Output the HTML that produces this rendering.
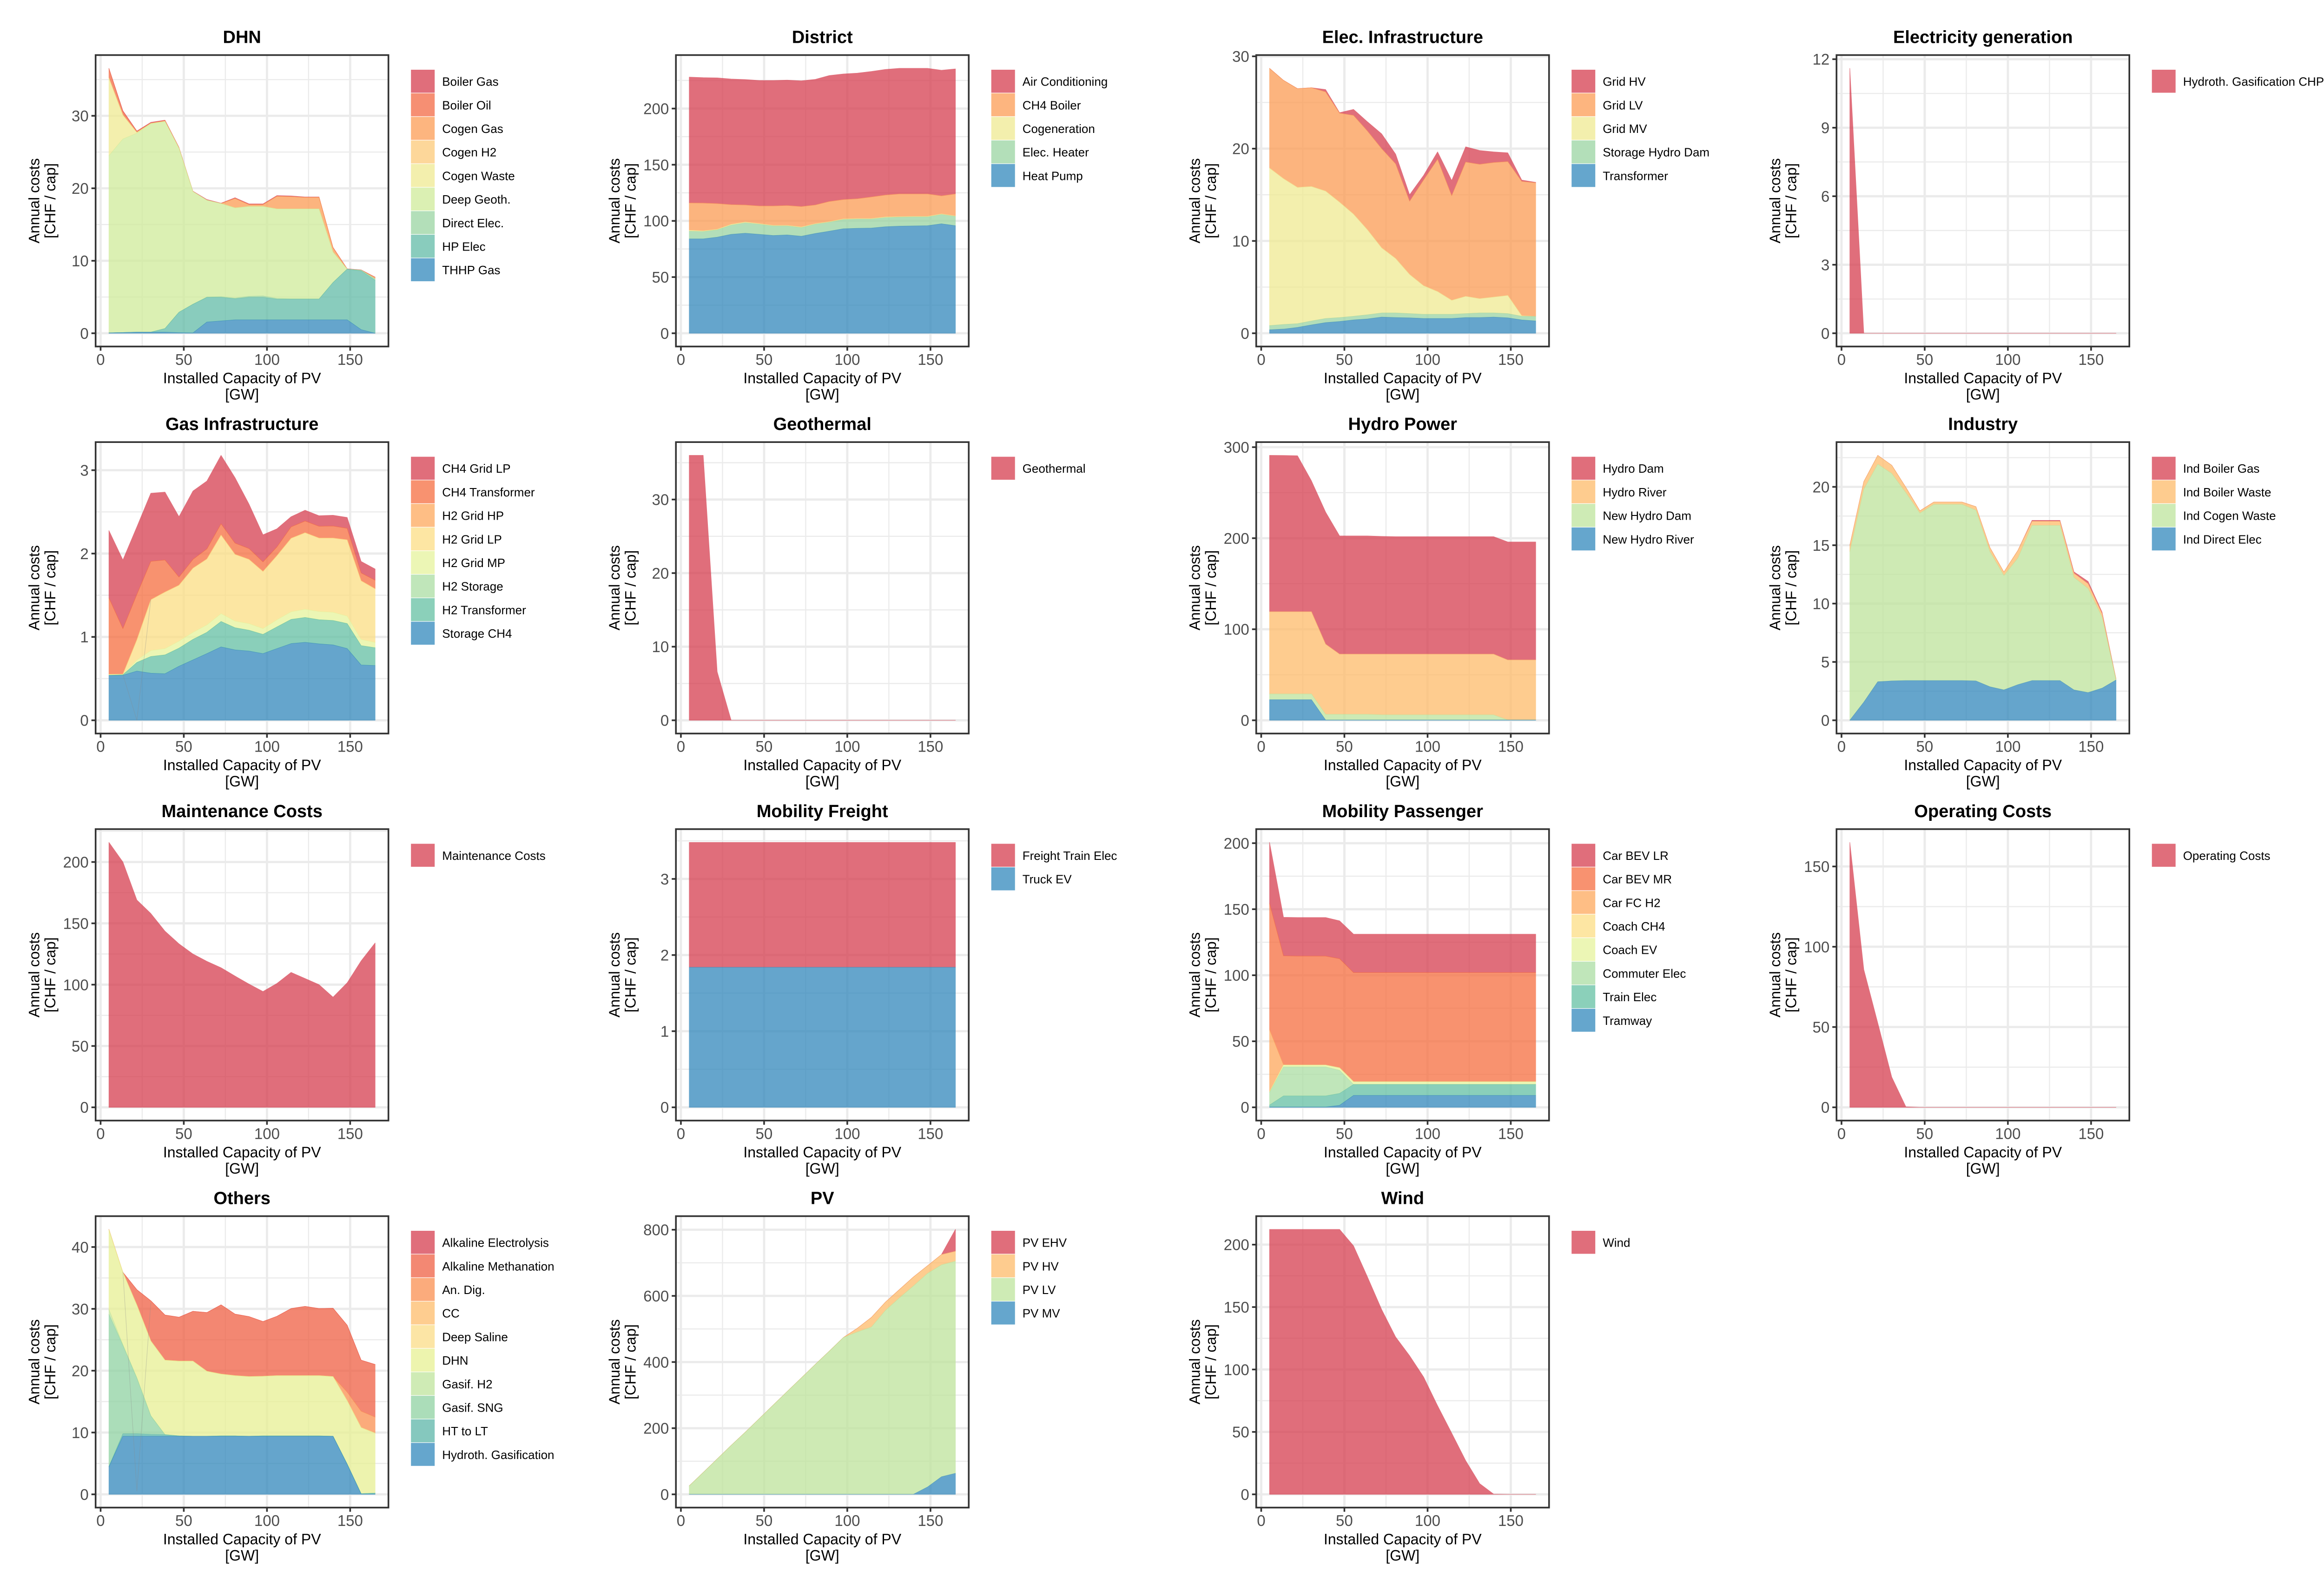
<!DOCTYPE html>
<html lang="en">
<head>
<meta charset="utf-8">
<title>Annual costs by installed capacity of PV</title>
<style>
html,body{margin:0;padding:0;background:#fff;}
svg{display:block;font-family:"Liberation Sans",Arial,sans-serif;}
</style>
</head>
<body>
<svg id="chart-root" xmlns="http://www.w3.org/2000/svg" width="5055" height="3395" viewBox="0 0 5055 3395">
<rect x="0" y="0" width="5055" height="3395" fill="#ffffff"></rect>
</svg>
<script>
// ---- shared axis values ----
const capacity = [5,13.4,21.8,30.2,38.7,47.1,55.5,63.9,72.4,80.8,89.2,97.6,106,114.5,122.9,131.3,139.7,148.2,156.6,165];
const xTicks = [0,50,100,150];

// ---- DHN ----
const dhnTicks = [0,10,20,30];
const dhnBoilerGas = [.05,.1,.05,.1,.05,.05,.05,.1,.05,.1,.1,.1,.1,.1,.05,.05,.05,.05,.05,.05];
const dhnBoilerOil = [1.3,.5,.15,.05,.1,.05,0,0,0,0,0,0,0,0,0,0,0,0,0,0];
const dhnCogenGas = [0,0,0,0,0,0,0,0,0,1.3,.25,.25,1.75,1.7,1.6,1.6,.6,0,0,.2];
const dhnCogenH2 = [0,0,0,0,0,0,0,0,0,0,0,0,0,0,0,0,0,0,0,0];
const dhnCogenWaste = [10.7,3.3,.1,.05,.05,.05,0,0,0,0,0,0,0,0,0,0,0,0,0,0];
const dhnDeepGeoth = [24.45,26.7,27.45,28.75,28.55,22.6,15.55,13.35,12.85,12.45,12.4,12.35,12.35,12.4,12.4,12.4,4.2,0,0,0];
const dhnDirectElec = [0,0,0,0,0,0,0,.05,.1,.1,.15,.2,.1,.05,.05,.05,0,0,.1,.2];
const dhnHpElec = [0,0,0,0,.5,2.82,3.95,3.4,3.25,2.9,3.1,3.1,2.85,2.85,2.85,2.85,5.15,7,8.1,7.3];
const dhnThhpGas = [.05,.1,.15,.15,.15,.08,.05,1.55,1.7,1.85,1.85,1.85,1.85,1.85,1.85,1.85,1.85,1.85,.5,0];

// ---- District ----
const districtTicks = [0,50,100,150,200];
const districtAir = [112,111.6,111.9,111.8,111.6,111.7,111.7,111.6,111.9,111.8,112.1,111.8,111.8,111.7,111.8,111.8,111.8,111.8,111.8,111.3];
const districtBoiler = [24.3,24.8,22.9,17.6,15.2,15.7,17.3,17.7,18.2,16.7,18,17.3,17.6,19.2,19.5,20.2,20,20,16.1,19.6];
const districtCogen = [.9,.6,.5,.7,.7,.6,.5,.5,.6,.5,.5,.5,.5,.5,.6,.5,.5,.5,.5,.4];
const districtHeater = [6.8,6.5,6.5,8.2,9.3,9,8.5,8,7.7,8.2,8,8.2,8.2,8,8.1,8,8,7.8,8.3,8.3];
const districtPump = [84,84,85.5,88,89,88,87,87.5,86.3,88.8,90.8,93,93.4,93.6,94.8,95.3,95.5,95.7,97.4,95.7];

// ---- Elec. Infrastructure ----
const elecTicks = [0,10,20,30];
const elecGridHv = [0,0,0,0,.25,.05,.65,1,1.6,1.05,.7,.5,.8,1.65,1.65,1.5,1.15,.95,.15,.05];
const elecGridLv = [10.8,10.65,10.7,10.7,10.75,9.65,10.7,10.7,10.75,10.25,7.93,11.45,14.33,11.33,14.55,14.55,14.58,14.5,14.55,14.48];
const elecGridMv = [17.07,15.8,14.76,14.57,13.8,12.5,11.06,9.2,7.05,5.9,4.24,3.1,2.47,1.52,1.87,1.55,1.72,1.97,.06,0];
const elecStorage = [.46,.5,.41,.43,.45,.43,.4,.45,.45,.5,.46,.45,.45,.45,.43,.5,.45,.46,.4,.49];
const elecTransformer = [.37,.45,.63,.9,1.15,1.27,1.44,1.55,1.75,1.7,1.67,1.6,1.6,1.6,1.7,1.7,1.75,1.67,1.44,1.33];

// ---- Electricity generation ----
const genTicks = [0,3,6,9,12];
const genHydroth = [11.6,0,0,0,0,0,0,0,0,0,0,0,0,0,0,0,0,0,0,0];

// ---- Gas Infrastructure ----
const gasTicks = [0,1,2,3];
const gasCh4GridLp = [.808,.823,.81,.817,.814,.724,.82,.814,.821,.785,.533,.325,.217,.122,.13,.127,.13,.13,.138,.135];
const gasCh4Transformer = [.918,.548,.545,.461,.385,.098,.106,.121,.135,.135,.13,.115,.105,.137,.14,.141,.144,.138,.094,.103];
const gasH2GridHp = [0,0,0,0,0,0,0,0,0,0,0,0,0,0,0,0,0,0,0,0];
const gasH2GridLp = [0,0,.242,.609,.678,.67,.769,.79,.942,.8,.77,.685,.769,.881,.918,.881,.89,.915,.703,.643];
const gasH2GridMp = [.01,.007,.03,.072,.076,.085,.085,.09,.095,.08,.08,.07,.086,.092,.099,.099,.099,.09,.075,.064];
const gasH2Storage = [0,0,0,0,0,0,0,0,0,0,0,0,0,0,0,0,0,0,0,0];
const gasH2Transformer = [.003,.005,.103,.2,.226,.217,.246,.255,.305,.266,.25,.23,.26,.29,.298,.289,.293,.3,.232,.213];
const gasStorageCh4 = [.537,.54,.59,.565,.558,.648,.724,.8,.88,.844,.83,.8,.86,.92,.935,.917,.904,.86,.663,.657];
const gasSeamX = [13.4,21.8,30.2];
const gasSeamY = [.55,0,1.45];

// ---- Geothermal ----
const geoTicks = [0,10,20,30];
const geoGeothermal = [36,36,6.6,0,0,0,0,0,0,0,0,0,0,0,0,0,0,0,0,0];

// ---- Hydro Power ----
const hydroTicks = [0,100,200,300];
const hydroDam = [171.7,171.6,171.3,143.7,145,129.8,129.8,129.8,129.3,129,129,129,129,129,129,129,129,129.6,129.6,129.6];
const hydroRiver = [90.3,90.3,90.3,90.3,77.1,66.1,66.1,66.1,66.6,66.7,66.7,66.7,66.7,66.7,66.7,66.7,66.7,65.9,65.9,65.9];
const hydroNewDam = [6.4,6.4,6.4,6.4,6.3,6.3,6.3,6.3,5.8,5.7,5.7,5.7,5.7,5.7,5.7,5.7,5.7,.1,.1,.1];
const hydroNewRiver = [22.6,22.6,22.6,22.6,.3,.3,.3,.3,.3,.3,.3,.3,.3,.3,.3,.3,.3,.3,.3,.3];

// ---- Industry ----
const industryTicks = [0,5,10,15,20];
const industryBoilerGas = [0,0,0,0,0,0,0,0,0,0,0,0,0,.08,.08,.08,.12,.2,.12,0];
const industryBoilerWaste = [.55,.65,.75,.7,.45,.2,.2,.2,.2,.3,.35,.3,.65,.35,.35,.35,.35,.4,.3,.1];
const industryCogenWaste = [14.45,18.25,18.65,17.78,16.1,14.35,15.1,15.1,15.1,14.63,11.58,9.8,10.85,13.3,13.3,13.3,9.65,8.93,6.1,0];
const industryDirectElec = [0,1.55,3.3,3.37,3.4,3.4,3.4,3.4,3.4,3.37,2.87,2.6,3.05,3.4,3.4,3.4,2.6,2.37,2.75,3.45];

// ---- Maintenance Costs ----
const maintenanceTicks = [0,50,100,150,200];
const maintenanceCosts = [216,200,169,158,143.6,133.3,125,119,113.8,107,100.5,94.4,101,110,105,100,89.8,101.5,119.4,134];

// ---- Mobility Freight ----
const freightTicks = [0,1,2,3];
const freightTrain = [1.64,1.64,1.64,1.64,1.64,1.64,1.64,1.64,1.64,1.64,1.64,1.64,1.64,1.64,1.64,1.64,1.64,1.64,1.64,1.64];
const freightTruck = [1.84,1.84,1.84,1.84,1.84,1.84,1.84,1.84,1.84,1.84,1.84,1.84,1.84,1.84,1.84,1.84,1.84,1.84,1.84,1.84];

// ---- Mobility Passenger ----
const passengerTicks = [0,50,100,150,200];
const passengerLr = [46.1,29.2,29.2,29.2,29.2,28.7,29.1,29.1,29.1,29.1,29.1,29.1,29.1,29.1,29.1,29.1,29.1,29.1,29.1,29.1];
const passengerMr = [95.7,82.5,82.5,82.5,82.5,82.6,82.6,82.6,82.6,82.6,82.6,82.6,82.6,82.6,82.6,82.6,82.6,82.6,82.6,82.6];
const passengerFc = [47.2,.2,0,0,0,0,0,0,0,0,0,0,0,0,0,0,0,0,0,0];
const passengerCoachCh4 = [0,0,0,0,0,0,0,0,0,0,0,0,0,0,0,0,0,0,0,0];
const passengerCoachEv = [.4,1.4,1.4,1.4,1.4,1.9,2.1,2.1,2.1,2.1,2.1,2.1,2.1,2.1,2.1,2.1,2.1,2.1,2.1,2.1];
const passengerCommuter = [9.5,22,22,22,22,17.5,0,0,0,0,0,0,0,0,0,0,0,0,0,0];
const passengerTrain = [1.5,8.4,8.4,8.4,8.4,9,8.3,8.3,8.3,8.3,8.3,8.3,8.3,8.3,8.3,8.3,8.3,8.3,8.3,8.3];
const passengerTramway = [.2,.2,.2,.2,.2,1.5,9,9,9,9,9,9,9,9,9,9,9,9,9,9];

// ---- Operating Costs ----
const operatingTicks = [0,50,100,150];
const operatingCosts = [165,85.8,52.5,18.8,.3,0,0,0,0,0,0,0,0,0,0,0,0,0,0,0];

// ---- Others ----
const othersTicks = [0,10,20,30,40];
const othersElectrolysis = [0,0,0,0,0,0,0,0,0,0,0,0,0,0,0,0,0,0,0,0];
const othersMethanation = [.05,0,2.5,6.5,7.3,7.1,8.05,9.5,11.2,9.95,9.7,8.85,9.6,10.85,11.2,10.85,11.05,10.8,8.25,8.5];
const othersAnDig = [0,0,0,0,0,0,0,0,0,0,0,0,0,0,0,0,0,1.4,2.65,2.6];
const othersCc = [0,0,0,0,0,0,0,0,0,0,0,0,0,0,0,0,0,0,0,0];
const othersDeepSaline = [0,0,0,0,0,0,0,0,0,0,0,0,0,0,0,0,0,0,0,0];
const othersDhn = [12.9,11.7,11.75,12.1,12.05,12.1,12.15,10.5,10,9.75,9.65,9.65,9.75,9.75,9.75,9.75,9.65,10.25,10.7,9.7];
const othersGasifH2 = [.8,.1,.05,0,0,0,0,0,0,0,0,0,0,0,0,0,0,0,0,0];
const othersGasifSng = [24.6,14.3,9,3,0,0,0,0,0,0,0,0,0,0,0,0,0,0,0,0];
const othersHtToLt = [.05,.4,.4,.3,.25,.05,0,0,.05,.05,0,.05,.05,.05,.05,.05,0,.05,.05,.15];
const othersHydroth = [4.45,9.4,9.4,9.4,9.4,9.4,9.4,9.4,9.4,9.4,9.4,9.4,9.4,9.4,9.4,9.4,9.4,4.85,.05,.05];
const othersSeamX = [13.4,21.8,30.2];
const othersSeamY = [36,.5,31];

// ---- PV ----
const pvTicks = [0,200,400,600,800];
const pvEhv = [0,0,0,0,0,0,0,0,0,0,0,0,0,0,0,0,0,0,0,66];
const pvHv = [0,0,0,0,0,0,0,0,0,0,0,0,11,29,25,25,27,23,31,30];
const pvLv = [25.7,66,107,148,188,229,270,311,352,393,433,474,491,506,556,594,630,646,641,641.5];
const pvMv = [0,0,0,0,0,0,0,0,0,0,0,0,0,0,0,0,0,22,53,63.5];

// ---- Wind ----
const windTicks = [0,50,100,150,200];
const windCosts = [212.2,212.2,212.2,212.2,212.2,212.2,199,174,148,126,111,94,71,49,27,8.6,.2,0,0,0];

// ---- fill palettes by number of legend entries (colour as seen on white) ----
const palettes = {
  1:['#E06E7B'],
  2:['#E06E7B','#65A6CD'],
  4:['#E06E7B','#FECC8F','#CEEBB5','#65A6CD'],
  5:['#E06E7B','#FDB57F','#F3EFAD','#B3DFB9','#65A6CD'],
  8:['#E06E7B','#F89270','#FEBE85','#FDE6A3','#ECF6B5','#C0E6BA','#8BD0BA','#65A6CD'],
  9:['#E06E7B','#F68F73','#FDB57F','#FDD79A','#F3EFAD','#DBF0B3','#B3DFB9','#89CCBD','#65A6CD'],
  10:['#E06E7B','#F38873','#FBAB7C','#FECD90','#FCE5A5','#EDF4AE','#CFEBB5','#ABDDB9','#85C8BE','#65A6CD']
};

const panels = [
  {title:'DHN',ticks:dhnTicks,names:['Boiler Gas','Boiler Oil','Cogen Gas','Cogen H2','Cogen Waste','Deep Geoth.','Direct Elec.','HP Elec','THHP Gas'],
   values:[dhnBoilerGas,dhnBoilerOil,dhnCogenGas,dhnCogenH2,dhnCogenWaste,dhnDeepGeoth,dhnDirectElec,dhnHpElec,dhnThhpGas]},
  {title:'District',ticks:districtTicks,names:['Air Conditioning','CH4 Boiler','Cogeneration','Elec. Heater','Heat Pump'],
   values:[districtAir,districtBoiler,districtCogen,districtHeater,districtPump]},
  {title:'Elec. Infrastructure',ticks:elecTicks,names:['Grid HV','Grid LV','Grid MV','Storage Hydro Dam','Transformer'],
   values:[elecGridHv,elecGridLv,elecGridMv,elecStorage,elecTransformer]},
  {title:'Electricity generation',ticks:genTicks,names:['Hydroth. Gasification CHP'],values:[genHydroth]},
  {title:'Gas Infrastructure',ticks:gasTicks,names:['CH4 Grid LP','CH4 Transformer','H2 Grid HP','H2 Grid LP','H2 Grid MP','H2 Storage','H2 Transformer','Storage CH4'],
   values:[gasCh4GridLp,gasCh4Transformer,gasH2GridHp,gasH2GridLp,gasH2GridMp,gasH2Storage,gasH2Transformer,gasStorageCh4],seamX:gasSeamX,seamY:gasSeamY},
  {title:'Geothermal',ticks:geoTicks,names:['Geothermal'],values:[geoGeothermal]},
  {title:'Hydro Power',ticks:hydroTicks,names:['Hydro Dam','Hydro River','New Hydro Dam','New Hydro River'],
   values:[hydroDam,hydroRiver,hydroNewDam,hydroNewRiver]},
  {title:'Industry',ticks:industryTicks,names:['Ind Boiler Gas','Ind Boiler Waste','Ind Cogen Waste','Ind Direct Elec'],
   values:[industryBoilerGas,industryBoilerWaste,industryCogenWaste,industryDirectElec]},
  {title:'Maintenance Costs',ticks:maintenanceTicks,names:['Maintenance Costs'],values:[maintenanceCosts]},
  {title:'Mobility Freight',ticks:freightTicks,names:['Freight Train Elec','Truck EV'],values:[freightTrain,freightTruck]},
  {title:'Mobility Passenger',ticks:passengerTicks,names:['Car BEV LR','Car BEV MR','Car FC H2','Coach CH4','Coach EV','Commuter Elec','Train Elec','Tramway'],
   values:[passengerLr,passengerMr,passengerFc,passengerCoachCh4,passengerCoachEv,passengerCommuter,passengerTrain,passengerTramway]},
  {title:'Operating Costs',ticks:operatingTicks,names:['Operating Costs'],values:[operatingCosts]},
  {title:'Others',ticks:othersTicks,names:['Alkaline Electrolysis','Alkaline Methanation','An. Dig.','CC','Deep Saline','DHN','Gasif. H2','Gasif. SNG','HT to LT','Hydroth. Gasification'],
   values:[othersElectrolysis,othersMethanation,othersAnDig,othersCc,othersDeepSaline,othersDhn,othersGasifH2,othersGasifSng,othersHtToLt,othersHydroth],seamX:othersSeamX,seamY:othersSeamY},
  {title:'PV',ticks:pvTicks,names:['PV EHV','PV HV','PV LV','PV MV'],values:[pvEhv,pvHv,pvLv,pvMv]},
  {title:'Wind',ticks:windTicks,names:['Wind'],values:[windCosts]}
];

// ---- layout ----
const svgNS = 'http://www.w3.org/2000/svg';
const root = document.getElementById('chart-root');
const colStep = 1248.5, rowStep = 832.67;
const panelW = 630, panelH = 627, panelL0 = 205.7, panelT0 = 118.5;
const ALPHA = 0.75;

function mk(parent, tag, attrs, txt){
  const e = document.createElementNS(svgNS, tag);
  for (const k in attrs) e.setAttribute(k, attrs[k]);
  if (txt !== undefined) e.textContent = txt;
  parent.appendChild(e);
  return e;
}
function rawColor(hex){
  const out = [1,3,5].map(function(i){
    const d = parseInt(hex.substr(i,2),16);
    return Math.max(0,Math.min(255,Math.round((d-255*(1-ALPHA))/ALPHA)));
  });
  return 'rgb('+out.join(',')+')';
}
function slug(s){ return s.toLowerCase().replace(/[^a-z0-9]+/g,'-').replace(/^-|-$/g,''); }

panels.forEach(function(p, idx){
  const col = idx % 4, row = Math.floor(idx / 4);
  const L = panelL0 + col * colStep, T = panelT0 + row * rowStep;
  const R = L + panelW, B = T + panelH;
  const key = slug(p.title);
  const n = p.values.length;

  // stacked totals (first legend entry sits on top of the stack)
  const totals = capacity.map(function(_, i){
    let s = 0;
    p.values.forEach(function(v){ s += v[i]; });
    return s;
  });
  const yMax = Math.max.apply(null, totals);
  const xMinD = -3, xMaxD = 173, yMinD = -0.05*yMax, yMaxD = 1.05*yMax;
  const xs = function(v){ return L + (v-xMinD)/(xMaxD-xMinD)*panelW; };
  const ys = function(v){ return B - (v-yMinD)/(yMaxD-yMinD)*panelH; };

  const g = mk(root,'g',{});
  
  

  // grid
  const step = p.ticks[1]-p.ticks[0];
  for (let t = p.ticks[0]-step/2; t <= yMaxD; t += step){
    if (t < yMinD) continue;
    const l = mk(g,'line',{x1:L,x2:R,y1:ys(t),y2:ys(t),stroke:'#EBEBEB','stroke-width':2.4});
    
    
  }
  [25,75,125].forEach(function(t){
    const l = mk(g,'line',{x1:xs(t),x2:xs(t),y1:T,y2:B,stroke:'#EBEBEB','stroke-width':2.4});
    
    
  });
  p.ticks.forEach(function(t){
    const l = mk(g,'line',{x1:L,x2:R,y1:ys(t),y2:ys(t),stroke:'#EBEBEB','stroke-width':4.8});
    
    
  });
  xTicks.forEach(function(t){
    const l = mk(g,'line',{x1:xs(t),x2:xs(t),y1:T,y2:B,stroke:'#EBEBEB','stroke-width':4.8});
    
    
  });

  // stacked areas: compute from the bottom up, paint from the top series down
  const pal = palettes[n];
  const bases = new Array(n), tops = new Array(n);
  let running = capacity.map(function(){ return 0; });
  for (let s = n-1; s >= 0; s--){
    bases[s] = running;
    tops[s] = running.map(function(b,i){ return b + p.values[s][i]; });
    running = tops[s];
  }
  for (let s = 0; s < n; s++){
    let d = '';
    capacity.forEach(function(x,i){ d += (i?'L':'M') + xs(x).toFixed(2) + ' ' + ys(tops[s][i]).toFixed(2); });
    for (let i = capacity.length-1; i >= 0; i--){ d += 'L' + xs(capacity[i]).toFixed(2) + ' ' + ys(bases[s][i]).toFixed(2); }
    d += 'Z';
    const c = rawColor(pal[s]);
    const a = mk(g,'path',{d:d,fill:c,stroke:c,'stroke-width':1,'stroke-linejoin':'round',opacity:ALPHA});
    
    
  }

  // thin stacking seam visible in some panels
  if (p.seamX){
    const pts = p.seamX.map(function(x,i){ return xs(x).toFixed(2)+','+ys(p.seamY[i]).toFixed(2); }).join(' ');
    const seam = mk(g,'polyline',{points:pts,fill:'none',stroke:'#8a8a8a','stroke-width':1.2,opacity:0.35});
    
    
  }

  // border
  const border = mk(g,'rect',{x:L,y:T,width:panelW,height:panelH,fill:'none',stroke:'#333333','stroke-width':3.6});
  
  

  // y axis
  p.ticks.forEach(function(t){
    const tk = mk(g,'line',{x1:L-9,x2:L,y1:ys(t),y2:ys(t),stroke:'#333333','stroke-width':3.6});
    
    
    const lb = mk(g,'text',{x:L-15,y:ys(t)+11.9,'text-anchor':'end','font-size':33,fill:'#4D4D4D'},String(t));
    
    
  });

  // x axis
  xTicks.forEach(function(t){
    const tk = mk(g,'line',{x1:xs(t),x2:xs(t),y1:B,y2:B+9,stroke:'#333333','stroke-width':3.6});
    
    
    const lb = mk(g,'text',{x:xs(t),y:B+39.5,'text-anchor':'middle','font-size':33,fill:'#4D4D4D'},String(t));
    
    
  });

  // titles
  const cx = (L+R)/2, cy = (T+B)/2;
  const title = mk(g,'text',{x:cx,y:T-26,'text-anchor':'middle','font-size':38,'font-weight':'bold',fill:'#000'},p.title);
  
  

  const xt1 = mk(g,'text',{x:cx,y:B+79,'text-anchor':'middle','font-size':32,fill:'#000'},'Installed Capacity of PV');
  
  
  const xt2 = mk(g,'text',{x:cx,y:B+114,'text-anchor':'middle','font-size':32,fill:'#000'},'[GW]');
  
  

  const yx1 = L-121, yx2 = L-86.5;
  const yt1 = mk(g,'text',{x:yx1,y:cy,'text-anchor':'middle','font-size':32,fill:'#000',transform:'rotate(-90 '+yx1+' '+cy+')'},'Annual costs');
  
  
  const yt2 = mk(g,'text',{x:yx2,y:cy,'text-anchor':'middle','font-size':32,fill:'#000',transform:'rotate(-90 '+yx2+' '+cy+')'},'[CHF / cap]');
  
  

  // legend
  const keyH = 50.7, keyW = 51, legX = R + 48.5, legY = T + 31.5;
  p.names.forEach(function(name, i){
    const kg = mk(g,'g',{});
    
    
    const sw = mk(kg,'rect',{x:legX,y:legY+i*keyH,width:keyW,height:keyH-1.2,fill:rawColor(pal[i]),opacity:ALPHA});
    
    
    const tx = mk(kg,'text',{x:legX+67,y:legY+i*keyH+keyH/2+9.2,'font-size':26,fill:'#000'},name);
    
    
  });
});
</script>
</body>
</html>
